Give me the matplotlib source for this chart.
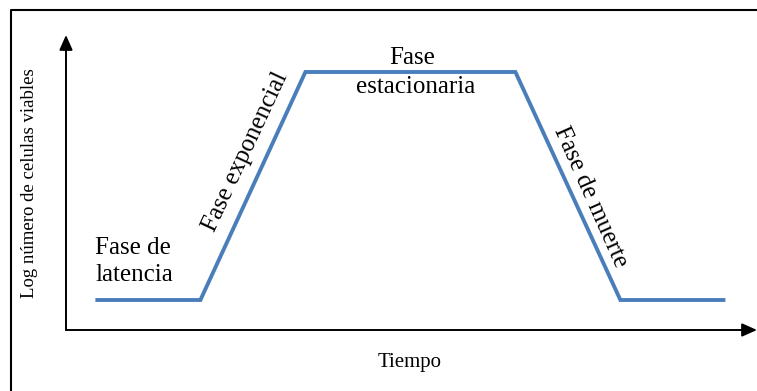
import matplotlib
matplotlib.use("Agg")
import matplotlib.pyplot as plt
from matplotlib.lines import Line2D

# curva de crecimiento (esquema)
tiempo = [0.28, 1.28, 2.28, 4.28, 5.28, 6.28]
log_celulas = [1.0, 1.0, 8.6, 8.6, 1.0, 1.0]

fases = ["Fase de\nlatencia", "Fase exponencial", "Fase", "estacionaria", "Fase de muerte"]
ylabel = "Log número de celulas viables"
xlabel = "Tiempo"

plt.rcParams['font.family'] = ['Liberation Serif', 'DejaVu Serif']

W, H = 757, 391
fig = plt.figure(figsize=(W / 100, H / 100), dpi=100)

# marco exterior (solo se ve arriba y a la izquierda)
fig.add_artist(Line2D([11 / W, 11 / W, 1.0], [0.0, 1 - 10 / H, 1 - 10 / H],
                      transform=fig.transFigure, color='black', lw=1.5))

x0, y0 = 66, 330   # origen de los ejes en pixeles
ax = fig.add_axes([x0 / W, (H - y0) / H, (W - x0) / W, (y0 - 35) / H])
ax.set_xlim(0, (W - x0) / 105)
ax.set_ylim(0, (y0 - 35) / 30)
ax.axis('off')

# ejes con flecha
arrow = dict(arrowstyle='-|>,head_width=0.4,head_length=0.9', color='black', lw=1.4,
             shrinkA=0, shrinkB=0)
ax.annotate('', xy=(0, 1), xytext=(0, 0), xycoords='axes fraction',
            arrowprops=arrow, annotation_clip=False)
ax.annotate('', xy=(1.0, 0), xytext=(0, 0), xycoords='axes fraction',
            arrowprops=arrow, annotation_clip=False)

ax.plot(tiempo, log_celulas, color='#4a7ebb', lw=2.8, solid_joinstyle='miter',
        solid_capstyle='butt', clip_on=False)

fs = 18
ax.text(0.28, 2.27, fases[0], ha='left', va='center', fontsize=fs, linespacing=1.3)
ax.text(1.71, 5.93, fases[1], ha='center', va='center', fontsize=fs,
        rotation=65, rotation_mode='anchor')
ax.text(3.30, 8.87, fases[2], ha='center', va='baseline', fontsize=fs)
ax.text(3.33, 7.90, fases[3], ha='center', va='baseline', fontsize=fs)
ax.text(4.99, 4.43, fases[4], ha='center', va='center', fontsize=fs,
        rotation=-66, rotation_mode='anchor')

fig.text(30 / W, 1 - 183 / H, ylabel, rotation=90, ha='center', va='center', fontsize=13.5)
fig.text(410 / W, 1 - 362 / H, xlabel, ha='center', va='center', fontsize=15)

fig.savefig('out.png', dpi=100)
